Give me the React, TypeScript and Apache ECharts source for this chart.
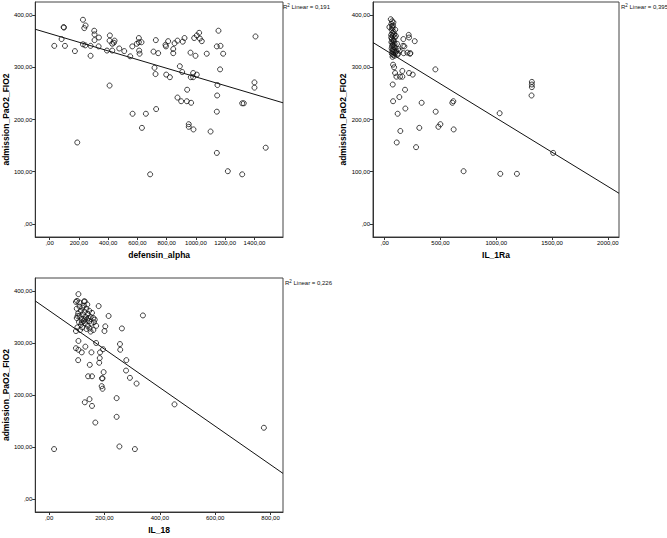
import React, { useEffect, useRef } from "react";
import * as echarts from "echarts";

// Panel 1: defensin_alpha vs admission_PaO2_FIO2
const defensinPoints: [number, number][] = [
  [32,341],[82,354],[96,377],[98,376],[105,341],[173,331],[189,156],[228,391],[228,344],[237,375],
  [246,380],[244,342],[280,341],[280,322],[305,370],[307,363],[307,352],[337,357],[335,340],[392,332],
  [410,265],[412,361],[410,351],[428,345],[428,332],[444,351],[439,347],[476,336],[510,331],[551,321],
  [567,211],[565,340],[596,345],[610,356],[610,348],[612,332],[615,326],[628,348],[631,184],[658,211],
  [687,95],[710,330],[717,299],[724,287],[726,352],[742,327],[728,220],[795,340],[797,286],[810,350],
  [792,343],[822,281],[845,335],[845,327],[854,346],[874,351],[874,242],[890,302],[899,235],[906,291],
  [910,349],[922,356],[940,257],[938,235],[951,191],[951,186],[963,328],[967,232],[965,281],[981,281],
  [981,289],[983,181],[988,356],[997,322],[1006,361],[1006,286],[1022,366],[1027,355],[1040,350],[1074,326],
  [1100,177],[1143,340],[1154,370],[1147,266],[1145,246],[1143,215],[1143,136],[1168,341],[1165,296],[1186,326],
  [1218,101],[1316,231],[1327,231],[1316,95],[1400,271],[1400,261],[1407,359],[1477,146]
];

// Panel 2: IL_1Ra vs admission_PaO2_FIO2
const il1raPoints: [number, number][] = [
  [54,392],[42,377],[167,354],[215,362],[218,357],[176,340],[203,328],[227,326],[269,350],[119,326],
  [134,332],[75,305],[84,300],[93,289],[105,282],[137,282],[158,282],[158,293],[218,289],[251,286],
  [72,267],[182,257],[75,235],[131,243],[116,211],[185,221],[331,232],[140,178],[108,156],[281,147],
  [310,184],[454,296],[457,215],[499,191],[481,186],[606,232],[615,235],[618,181],[707,101],[1030,212],
  [1036,96],[1185,96],[1319,272],[1319,267],[1319,262],[1316,246],[1510,136],[164,341],[170,327],[230,327],
  [60,383],[66,378],[70,375],[75,380],[62,372],[80,368],[68,366],[85,363],[72,360],[58,357],
  [90,357],[64,354],[76,352],[82,350],[60,348],[70,347],[88,345],[74,343],[66,341],[80,339],
  [92,338],[62,336],[72,334],[84,333],[68,331],[78,329],[96,328],[64,326],[74,324],[86,322],
  [70,320],[100,360],[110,345],[120,335],[104,331],[115,324],[58,362],[94,372],[78,386],[66,388]
];

// Panel 3: IL_18 vs admission_PaO2_FIO2
const il18Points: [number, number][] = [
  [18,96],[106,394],[97,379],[126,380],[179,371],[215,352],[339,353],[146,328],[203,332],[200,323],
  [97,323],[106,304],[131,293],[170,300],[97,290],[106,287],[118,282],[153,282],[184,282],[195,288],
  [183,271],[181,262],[105,267],[147,258],[197,244],[141,236],[155,236],[191,232],[193,232],[190,217],
  [193,212],[129,186],[146,192],[155,179],[167,147],[244,158],[254,101],[310,96],[256,298],[257,287],
  [263,328],[279,267],[278,247],[292,233],[316,222],[244,194],[453,182],[776,137],
  [101,381],[109,378],[129,380],[110,370],[120,368],[100,366],[135,366],[115,362],[128,360],[145,362],
  [105,357],[140,356],[122,355],[155,358],[110,352],[132,350],[150,350],[160,348],[100,348],[118,346],
  [138,345],[125,342],[145,342],[108,340],[162,340],[130,338],[152,337],[115,335],[140,333],[170,333],
  [120,330],[102,330],[135,327],[160,325],[112,325],[150,322],[128,345],[142,348],[165,345],[118,340],
  [103,352],[126,372],[138,374]
];

// Fit line endpoints (x at axis extremes, y from the linear fit)
const fitDefensinX = [-98, 1595];
const fitDefensinY = [372.8, 232.0];
const fitIl1raX = [-105, 2100];
const fitIl1raY = [347.4, 58.7];
const fitIl18X = [-50, 845];
const fitIl18Y = [380.9, 49.2];

const yTicks = [0, 100, 200, 300, 400];
const defensinTicks = [0, 200, 400, 600, 800, 1000, 1200, 1400];
const il1raTicks = [0, 500, 1000, 1500, 2000];
const il18Ticks = [0, 200, 400, 600, 800];

const r2Values = ["0,191", "0,395", "0,226"];
const xTitles = ["defensin_alpha", "IL_1Ra", "IL_18"];
const yTitle = "admission_PaO2_FIO2";

const FONT = 'Arial, "Liberation Sans", sans-serif';

const fmt = (v: number) => (v === 0 ? ",00" : v.toFixed(2).replace(".", ","));

export default function App() {
  const ref = useRef<HTMLDivElement>(null);
  useEffect(() => {
    if (!ref.current) return;
    const chart = echarts.init(ref.current, undefined, { renderer: "svg" });

    const grids = [
      { left: 35, top: 2, width: 248, height: 235 },
      { left: 373, top: 2, width: 246, height: 235 },
      { left: 35, top: 278, width: 248, height: 234 },
    ];
    const xRanges = [
      [-98, 1595],
      [-105, 2100],
      [-50, 845],
    ];
    const xTickSets = [defensinTicks, il1raTicks, il18Ticks];

    const xAxis = grids.map((_, i) => ({
      type: "value",
      gridIndex: i,
      min: xRanges[i][0],
      max: xRanges[i][1],
      name: xTitles[i],
      nameLocation: "middle",
      nameGap: 13,
      nameTextStyle: { fontFamily: FONT, fontSize: 8.5, fontWeight: "bold", color: "#000" },
      axisLine: { show: true, onZero: false, lineStyle: { color: "#333", width: 1 } },
      axisTick: { show: true, length: 3, customValues: xTickSets[i], lineStyle: { color: "#333" } },
      axisLabel: {
        customValues: xTickSets[i],
        formatter: fmt,
        fontFamily: FONT,
        fontSize: 6,
        color: "#000",
        margin: 3,
      },
      splitLine: { show: false },
    }));

    const yAxis = grids.map((_, i) => ({
      type: "value",
      gridIndex: i,
      min: -25,
      max: 425,
      name: yTitle,
      nameLocation: "middle",
      nameRotate: 90,
      nameGap: 24,
      nameTextStyle: { fontFamily: FONT, fontSize: 8.5, fontWeight: "bold", color: "#000" },
      axisLine: { show: true, onZero: false, lineStyle: { color: "#333", width: 1 } },
      axisTick: { show: true, length: 3, customValues: yTicks, lineStyle: { color: "#333" } },
      axisLabel: {
        customValues: yTicks,
        formatter: fmt,
        fontFamily: FONT,
        fontSize: 6,
        color: "#000",
        margin: 3,
      },
      splitLine: { show: false },
    }));

    const pointSets = [defensinPoints, il1raPoints, il18Points];
    const fits = [
      fitDefensinX.map((x, k) => [x, fitDefensinY[k]]),
      fitIl1raX.map((x, k) => [x, fitIl1raY[k]]),
      fitIl18X.map((x, k) => [x, fitIl18Y[k]]),
    ];

    const series: any[] = [];
    pointSets.forEach((pts, i) => {
      series.push({
        type: "scatter",
        xAxisIndex: i,
        yAxisIndex: i,
        data: pts,
        symbol: "circle",
        symbolSize: 5,
        itemStyle: { color: "rgba(0,0,0,0)", borderColor: "#111", borderWidth: 1 },
        silent: true,
      });
      series.push({
        type: "line",
        xAxisIndex: i,
        yAxisIndex: i,
        data: fits[i],
        symbol: "none",
        lineStyle: { color: "#111", width: 1 },
        silent: true,
      });
    });

    const r2Pos = [
      { x: 283, y: 3 },
      { x: 621, y: 3 },
      { x: 285, y: 279 },
    ];

    chart.setOption({
      animation: false,
      backgroundColor: "#fff",
      grid: grids.map((g) => ({ ...g, show: true, borderColor: "#444", borderWidth: 1, backgroundColor: "transparent" })),
      xAxis,
      yAxis,
      series,
      graphic: r2Pos.map((p, i) => ({
        type: "text",
        left: p.x,
        top: p.y,
        style: {
          text: "{a|R}{s|2}{a| Linear = " + r2Values[i] + "}",
          rich: {
            a: { fontFamily: FONT, fontSize: 6, fill: "#111", verticalAlign: "bottom" },
            s: { fontFamily: FONT, fontSize: 4.5, fill: "#111", verticalAlign: "top", padding: [0, 0, 2, 0] },
          },
        },
      })),
    });
    return () => chart.dispose();
  }, []);
  return (
    <div
      ref={ref}
      style={{ position: "fixed", left: 0, top: 0, width: 667, height: 538, background: "#fff" }}
    />
  );
}
